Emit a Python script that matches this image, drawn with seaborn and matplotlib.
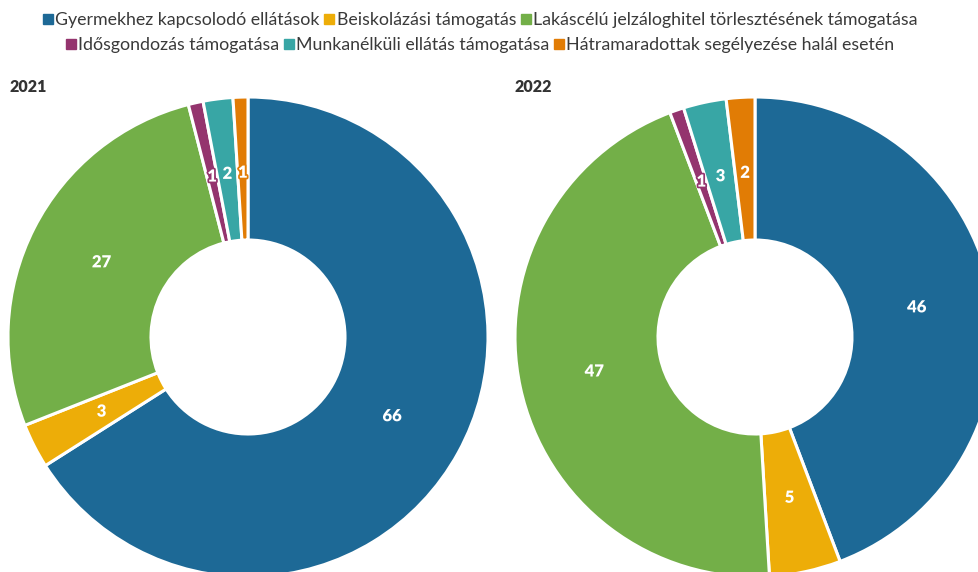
import matplotlib
matplotlib.use("Agg")
import matplotlib.pyplot as plt
import matplotlib.patheffects as pe
from matplotlib.lines import Line2D
import seaborn as sns

categories = [
    "Gyermekhez kapcsolodó ellátások",
    "Beiskolázási támogatás",
    "Lakáscélú jelzáloghitel törlesztésének támogatása",
    "Idősgondozás támogatása",
    "Munkanélküli ellátás támogatása",
    "Hátramaradottak segélyezése halál esetén",
]
values_2021 = [66, 3, 27, 1, 2, 1]
values_2022 = [46, 5, 47, 1, 3, 2]
years = ["2021", "2022"]
colors = ["#1D6996", "#EDAD08", "#73AF48", "#94346E", "#38A6A5", "#E17C05"]

sns.set_theme(style="white")
plt.rcParams['font.family'] = ['Lato', 'DejaVu Sans']
palette = sns.color_palette(colors)

W, H = 979, 572
fig = plt.figure(figsize=(W / 100, H / 100), dpi=100)
ax = fig.add_axes([0, 0, 1, 1])

R_OUT, R_IN = 240, 97
centers = [(248, H - 337), (755, H - 337)]

for vals, c, yr, tx in zip([values_2021, values_2022], centers, years, [10, 515]):
    total = sum(vals)
    wedges, texts, autotexts = ax.pie(
        vals, colors=palette, startangle=90, counterclock=False,
        radius=R_OUT, center=c,
        wedgeprops=dict(width=R_OUT - R_IN, edgecolor="white", linewidth=2.2),
        autopct=lambda p, t=total: f"{round(p * t / 100):d}",
        pctdistance=0.685,
    )
    for w, at, col in zip(wedges, autotexts, colors):
        at.set_color("white")
        at.set_fontweight("heavy")
        at.set_fontsize(12)
        at.set_path_effects([pe.withStroke(linewidth=2.5, foreground=col)])
    ax.text(tx, H - 87, yr, fontsize=11.5, fontweight="heavy", color="#333333",
            ha="left", va="center")

ax.set_xlim(0, W)
ax.set_ylim(0, H)
ax.set_aspect("equal")
ax.axis("off")

handles = [Line2D([0], [0], marker="s", linestyle="none", markersize=7.5,
                  markerfacecolor=col, markeredgecolor=col) for col in colors]

leg1 = fig.legend(handles[:3], categories[:3], loc="center", bbox_to_anchor=(0.49, 1 - 20 / H),
                  ncol=3, frameon=False, fontsize=12.8, handletextpad=0.05,
                  columnspacing=0.2, handlelength=0.7, borderpad=0)
leg2 = fig.legend(handles[3:], categories[3:], loc="center", bbox_to_anchor=(0.49, 1 - 45 / H),
                  ncol=3, frameon=False, fontsize=12.8, handletextpad=0.05,
                  columnspacing=0.2, handlelength=0.7, borderpad=0)
for leg in (leg1, leg2):
    for t in leg.get_texts():
        t.set_color("#3a3a3a")

fig.savefig("out.png", dpi=100)
